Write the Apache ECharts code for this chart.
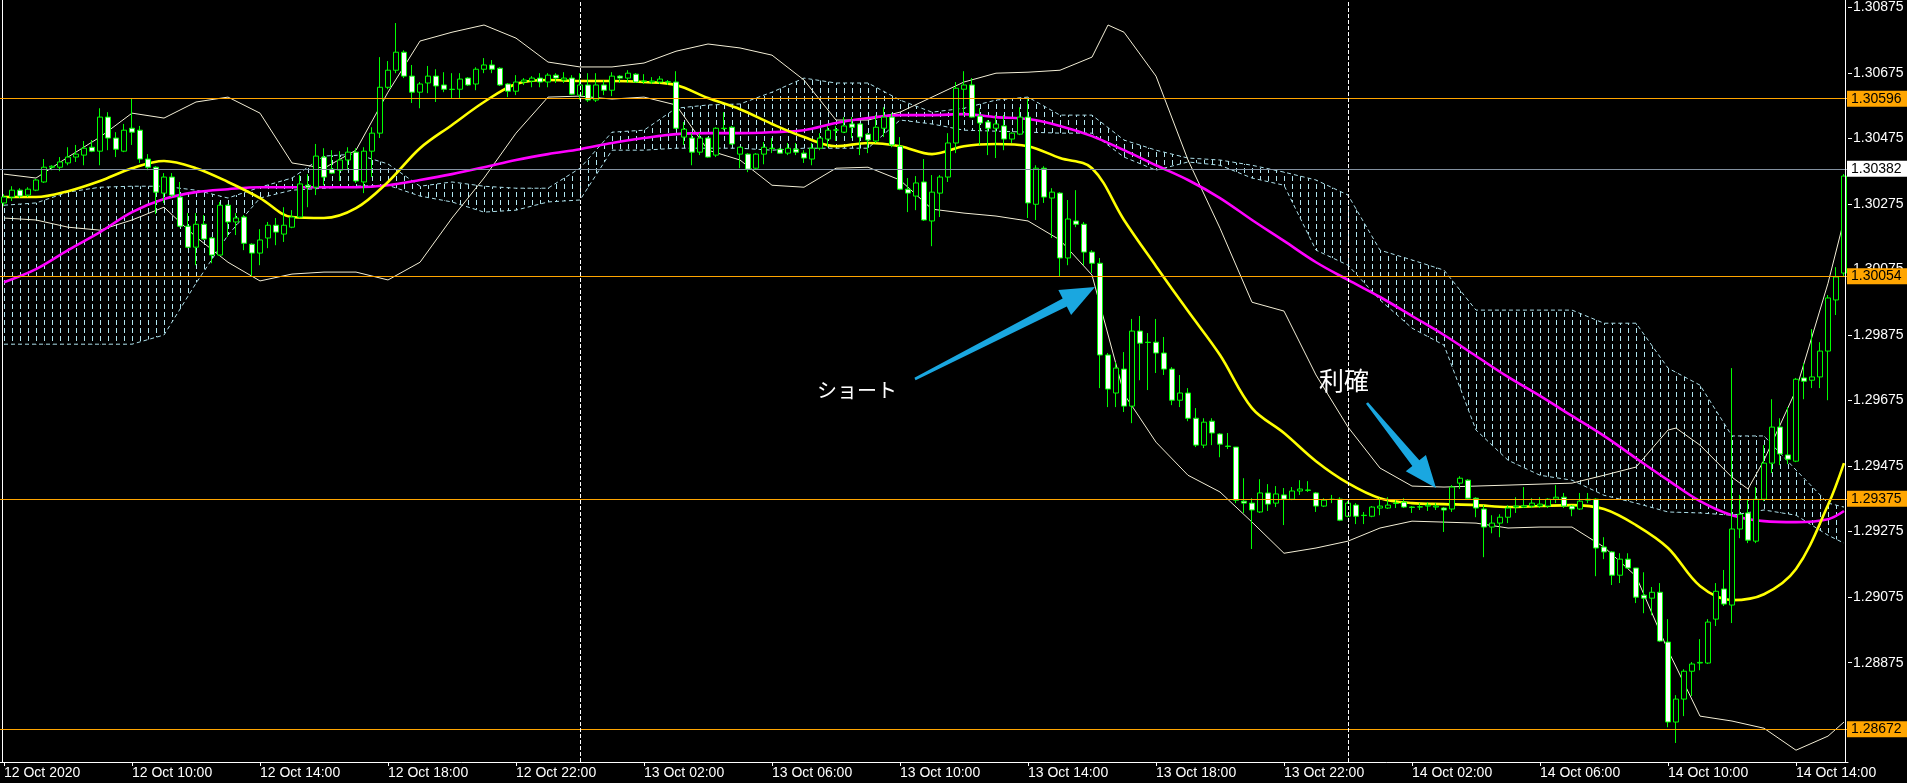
<!DOCTYPE html>
<html><head><meta charset="utf-8">
<script src="https://cdn.jsdelivr.net/npm/echarts@6/dist/echarts.min.js"></script>
<style>html,body{margin:0;padding:0;background:#000;overflow:hidden}#c{width:1907px;height:783px}</style>
</head><body><div id="c"></div>
<script>
// ---------- DATA (GBPUSD M15) ----------
const startLabel = '12 Oct 2020';
const opens = [1.30278,1.30296,1.30317,1.30302,1.30317,1.30342,1.30387,1.30387,1.30400,1.30418,
1.30424,1.30448,1.30436,1.30540,1.30476,1.30436,1.30506,1.30500,1.30412,1.30387,
1.30308,1.30357,1.30296,1.30207,1.30143,1.30213,1.30171,1.30119,1.30271,1.30220,
1.30235,1.30152,1.30125,1.30171,1.30210,1.30183,1.30204,1.30235,1.30332,1.30326,
1.30418,1.30381,1.30378,1.30409,1.30433,1.30342,1.30436,1.30491,1.30631,1.30683,
1.30738,1.30665,1.30616,1.30644,1.30665,1.30638,1.30625,1.30625,1.30659,1.30641,
1.30686,1.30699,1.30689,1.30641,1.30619,1.30647,1.30650,1.30659,1.30647,1.30668,
1.30653,1.30659,1.30607,1.30638,1.30592,1.30638,1.30622,1.30665,1.30659,1.30671,
1.30650,1.30647,1.30647,1.30647,1.30647,1.30479,1.30476,1.30433,1.30476,1.30424,
1.30506,1.30509,1.30427,1.30427,1.30384,1.30427,1.30445,1.30442,1.30430,1.30442,
1.30430,1.30412,1.30445,1.30473,1.30500,1.30494,1.30519,1.30519,1.30488,1.30467,
1.30506,1.30540,1.30451,1.30320,1.30299,1.30342,1.30223,1.30308,1.30357,1.30461,
1.30625,1.30638,1.30543,1.30525,1.30506,1.30513,1.30473,1.30488,1.30540,1.30274,
1.30384,1.30293,1.30308,1.30110,1.30223,1.30213,1.30128,1.30094,1.29814,1.29698,
1.29771,1.29658,1.29887,1.29853,1.29853,1.29820,1.29771,1.29676,1.29698,1.29621,
1.29539,1.29612,1.29573,1.29536,1.29533,1.29368,1.29362,1.29335,1.29393,1.29362,
1.29387,1.29374,1.29399,1.29402,1.29393,1.29353,1.29374,1.29374,1.29322,1.29356,
1.29325,1.29322,1.29347,1.29347,1.29362,1.29365,1.29350,1.29350,1.29353,1.29350,
1.29347,1.29344,1.29423,1.29432,1.29377,1.29344,1.29289,1.29301,1.29319,1.29350,
1.29350,1.29353,1.29353,1.29353,1.29374,1.29380,1.29353,1.29344,1.29371,1.29374,
1.29228,1.29213,1.29142,1.29191,1.29164,1.29081,1.29072,1.29090,1.28938,1.28694,
1.28764,1.28849,1.28874,1.28874,1.29008,1.29100,1.29051,1.29283,1.29332,1.29246,
1.29374,1.29484,1.29594,1.29509,1.29490,1.29744,1.29737,1.29747,1.29826,1.29982,
1.30064];
const closes = [1.30296,1.30317,1.30299,1.30320,1.30348,1.30387,1.30390,1.30403,1.30418,1.30427,
1.30445,1.30436,1.30540,1.30476,1.30442,1.30500,1.30494,1.30412,1.30387,1.30311,
1.30357,1.30302,1.30207,1.30143,1.30213,1.30168,1.30119,1.30271,1.30220,1.30232,
1.30155,1.30125,1.30165,1.30210,1.30189,1.30210,1.30235,1.30336,1.30326,1.30421,
1.30357,1.30369,1.30409,1.30433,1.30345,1.30436,1.30491,1.30631,1.30683,1.30738,
1.30665,1.30616,1.30641,1.30665,1.30635,1.30625,1.30624,1.30656,1.30638,1.30686,
1.30699,1.30686,1.30638,1.30619,1.30647,1.30653,1.30659,1.30647,1.30668,1.30659,
1.30659,1.30610,1.30638,1.30592,1.30638,1.30622,1.30665,1.30659,1.30674,1.30647,
1.30649,1.30650,1.30656,1.30648,1.30506,1.30503,1.30433,1.30476,1.30418,1.30506,
1.30505,1.30458,1.30448,1.30381,1.30427,1.30448,1.30444,1.30430,1.30445,1.30433,
1.30415,1.30445,1.30476,1.30500,1.30501,1.30513,1.30509,1.30479,1.30470,1.30509,
1.30540,1.30455,1.30320,1.30308,1.30339,1.30226,1.30311,1.30357,1.30461,1.30628,
1.30638,1.30540,1.30522,1.30506,1.30519,1.30473,1.30491,1.30540,1.30278,1.30384,
1.30296,1.30311,1.30110,1.30229,1.30213,1.30128,1.30094,1.29814,1.29710,1.29774,
1.29658,1.29887,1.29850,1.29852,1.29820,1.29771,1.29676,1.29698,1.29621,1.29539,
1.29609,1.29576,1.29542,1.29535,1.29371,1.29362,1.29341,1.29393,1.29359,1.29390,
1.29374,1.29399,1.29405,1.29401,1.29353,1.29371,1.29373,1.29310,1.29362,1.29322,
1.29324,1.29350,1.29353,1.29356,1.29361,1.29350,1.29349,1.29351,1.29356,1.29353,
1.29341,1.29411,1.29438,1.29377,1.29347,1.29289,1.29301,1.29319,1.29347,1.29353,
1.29354,1.29362,1.29359,1.29374,1.29380,1.29353,1.29344,1.29368,1.29374,1.29225,
1.29213,1.29142,1.29191,1.29164,1.29075,1.29072,1.29090,1.28941,1.28694,1.28764,
1.28849,1.28871,1.28876,1.28999,1.29093,1.29054,1.29283,1.29328,1.29249,1.29374,
1.29484,1.29594,1.29512,1.29496,1.29740,1.29734,1.29747,1.29826,1.29988,1.30052,
1.30360];
const lows = [1.30268,1.30284,1.30293,1.30296,1.30314,1.30339,1.30378,1.30375,1.30393,1.30403,
1.30393,1.30433,1.30393,1.30439,1.30418,1.30433,1.30455,1.30400,1.30378,1.30244,
1.30278,1.30296,1.30204,1.30140,1.30088,1.30165,1.30094,1.30116,1.30174,1.30180,
1.30134,1.30055,1.30088,1.30140,1.30149,1.30159,1.30201,1.30232,1.30265,1.30302,
1.30332,1.30366,1.30345,1.30378,1.30339,1.30308,1.30357,1.30476,1.30625,1.30674,
1.30659,1.30583,1.30567,1.30613,1.30586,1.30616,1.30598,1.30598,1.30635,1.30622,
1.30674,1.30674,1.30635,1.30601,1.30607,1.30638,1.30631,1.30631,1.30631,1.30644,
1.30644,1.30607,1.30592,1.30586,1.30586,1.30607,1.30604,1.30644,1.30644,1.30644,
1.30641,1.30641,1.30641,1.30638,1.30503,1.30455,1.30393,1.30424,1.30416,1.30418,
1.30500,1.30455,1.30384,1.30372,1.30381,1.30396,1.30430,1.30428,1.30424,1.30424,
1.30400,1.30393,1.30439,1.30448,1.30467,1.30491,1.30476,1.30424,1.30430,1.30461,
1.30479,1.30448,1.30317,1.30250,1.30256,1.30223,1.30146,1.30235,1.30342,1.30430,
1.30546,1.30538,1.30455,1.30424,1.30415,1.30439,1.30461,1.30485,1.30232,1.30226,
1.30278,1.30171,1.30052,1.30088,1.30204,1.30088,1.30064,1.29713,1.29655,1.29655,
1.29640,1.29606,1.29737,1.29707,1.29759,1.29753,1.29661,1.29655,1.29612,1.29533,
1.29530,1.29539,1.29502,1.29527,1.29362,1.29332,1.29222,1.29332,1.29338,1.29350,
1.29295,1.29371,1.29387,1.29396,1.29335,1.29350,1.29362,1.29307,1.29319,1.29298,
1.29298,1.29319,1.29325,1.29344,1.29347,1.29347,1.29332,1.29341,1.29338,1.29341,
1.29274,1.29335,1.29405,1.29374,1.29319,1.29197,1.29270,1.29258,1.29301,1.29332,
1.29347,1.29347,1.29347,1.29347,1.29362,1.29347,1.29322,1.29341,1.29362,1.29139,
1.29191,1.29112,1.29118,1.29161,1.29057,1.29026,1.29020,1.28938,1.28678,1.28630,
1.28712,1.28773,1.28852,1.28871,1.28987,1.29048,1.28996,1.29255,1.29240,1.29240,
1.29368,1.29454,1.29478,1.29481,1.29487,1.29679,1.29713,1.29713,1.29676,1.29936,
1.30052];
const highs = [1.30305,1.30329,1.30323,1.30326,1.30351,1.30412,1.30393,1.30418,1.30448,1.30455,
1.30467,1.30470,1.30567,1.30555,1.30494,1.30519,1.30598,1.30513,1.30427,1.30390,
1.30369,1.30369,1.30342,1.30247,1.30247,1.30241,1.30174,1.30281,1.30274,1.30247,
1.30241,1.30155,1.30198,1.30220,1.30232,1.30265,1.30256,1.30363,1.30366,1.30458,
1.30445,1.30439,1.30436,1.30448,1.30445,1.30448,1.30509,1.30723,1.30711,1.30827,
1.30744,1.30699,1.30647,1.30696,1.30686,1.30677,1.30674,1.30674,1.30662,1.30692,
1.30720,1.30714,1.30692,1.30644,1.30668,1.30659,1.30665,1.30674,1.30674,1.30674,
1.30677,1.30668,1.30674,1.30674,1.30674,1.30653,1.30677,1.30668,1.30683,1.30674,
1.30671,1.30662,1.30665,1.30653,1.30680,1.30525,1.30491,1.30491,1.30479,1.30509,
1.30555,1.30513,1.30450,1.30430,1.30430,1.30464,1.30476,1.30446,1.30461,1.30461,
1.30439,1.30461,1.30491,1.30513,1.30513,1.30540,1.30540,1.30522,1.30491,1.30546,
1.30570,1.30552,1.30479,1.30354,1.30360,1.30412,1.30363,1.30363,1.30491,1.30647,
1.30680,1.30659,1.30567,1.30531,1.30546,1.30546,1.30494,1.30570,1.30598,1.30393,
1.30390,1.30323,1.30311,1.30287,1.30317,1.30220,1.30134,1.30110,1.29820,1.29792,
1.29823,1.29924,1.29933,1.29881,1.29924,1.29869,1.29777,1.29753,1.29713,1.29652,
1.29621,1.29621,1.29576,1.29576,1.29533,1.29438,1.29377,1.29435,1.29420,1.29414,
1.29408,1.29411,1.29432,1.29429,1.29396,1.29377,1.29387,1.29380,1.29368,1.29362,
1.29335,1.29353,1.29377,1.29380,1.29374,1.29377,1.29353,1.29362,1.29365,1.29362,
1.29350,1.29417,1.29444,1.29435,1.29380,1.29356,1.29325,1.29328,1.29356,1.29380,
1.29411,1.29377,1.29380,1.29377,1.29417,1.29393,1.29356,1.29393,1.29393,1.29377,
1.29258,1.29216,1.29209,1.29209,1.29164,1.29151,1.29106,1.29118,1.29008,1.28776,
1.28855,1.28877,1.28947,1.29008,1.29118,1.29158,1.29774,1.29387,1.29374,1.29411,
1.29539,1.29679,1.29621,1.29655,1.29744,1.29789,1.29893,1.29853,1.29997,1.30082,
1.30366];

// indicator readings (bar index -> price)
const sampleIdx = [0,4,8,12,16,20,24,28,32,36,40,44,48,52,56,60,64,68,72,76,80,84,88,92,96,100,104,108,112,116,120,124,128,132,136,140,144,148,152,156,160,164,168,172,176,180,184,188,192,196,200,204,208,212,216,220,224,228,230];
const bandUpperIdx = [0,4,8,12,16,20,24,28,32,36,40,44,48,52,56,60,64,68,72,76,80,84,88,92,96,100,104,108,112,116,120,124,128,132,136,138,140,144,148,152,156,160,164,168,172,176,180,184,188,192,196,200,204,208,209,212,216,218,220,224,228,230];
const bandUpper = [1.30366,1.30354,1.30418,1.30479,1.30552,1.30537,1.30586,1.30601,1.30552,1.30400,1.30384,1.30439,1.30616,1.30772,1.30799,1.30821,1.30781,1.30708,1.30693,1.30693,1.30705,1.30741,1.30763,1.30751,1.30729,1.30653,1.30531,1.30531,1.30555,1.30601,1.30647,1.30674,1.30677,1.30683,1.30723,
1.30821,
1.30799,1.30665,1.30409,1.30201,1.29975,1.29948,1.29753,1.29594,1.29469,1.29414,1.29411,1.29414,1.29417,1.29420,1.29423,1.29447,1.29472,1.29585,
1.29591,
1.29539,1.29441,1.29405,1.29493,1.29707,1.30033,1.30226];
const bandLower = [1.30232,1.30226,1.30204,1.30195,1.30226,1.30265,1.30174,1.30097,1.30040,1.30061,
1.30067,1.30067,1.30043,1.30097,1.30232,1.30354,1.30491,1.30601,1.30604,1.30595,
1.30601,1.30577,1.30439,1.30409,1.30332,1.30326,1.30384,1.30387,1.30348,1.30259,
1.30247,1.30238,1.30223,1.30165,1.30058,1.29695,1.29548,1.29447,1.29396,1.29304,
1.29209,1.29225,1.29246,1.29286,1.29307,1.29304,1.29301,1.29286,1.29289,1.29289,
1.29228,1.29139,1.28913,1.28712,1.28697,1.28675,1.28608,1.28651,1.28694];
const maYellow = [1.30296,1.30296,1.30314,1.30345,1.30384,1.30406,1.30384,1.30342,1.30293,1.30235,
1.30232,1.30262,1.30342,1.30445,1.30516,1.30586,1.30641,1.30653,1.30650,1.30650,
1.30647,1.30638,1.30598,1.30564,1.30519,1.30479,1.30451,1.30461,1.30451,1.30427,
1.30451,1.30458,1.30451,1.30415,1.30384,1.30226,1.30085,1.29948,1.29814,1.29652,
1.29576,1.29490,1.29423,1.29377,1.29362,1.29359,1.29356,1.29350,1.29353,1.29356,
1.29344,1.29295,1.29225,1.29109,1.29066,1.29084,1.29161,1.29356,1.29484];
const maMagenta = [1.30036,1.30076,1.30134,1.30189,1.30250,1.30290,1.30311,1.30320,1.30326,1.30326,
1.30326,1.30326,1.30332,1.30348,1.30366,1.30387,1.30409,1.30427,1.30442,1.30461,
1.30476,1.30488,1.30491,1.30491,1.30494,1.30500,1.30522,1.30537,1.30546,1.30546,
1.30549,1.30540,1.30534,1.30513,1.30482,1.30439,1.30393,1.30348,1.30293,1.30226,
1.30162,1.30097,1.30043,1.29991,1.29933,1.29875,1.29811,1.29747,1.29689,1.29628,
1.29567,1.29499,1.29432,1.29368,1.29325,1.29307,1.29304,1.29313,1.29338];
const cloudTop = [1.30271,1.30278,1.30311,1.30326,1.30329,1.30329,1.30317,1.30293,1.30326,1.30354,
1.30421,1.30427,1.30397,1.30329,1.30342,1.30329,1.30323,1.30323,1.30384,1.30494,
1.30500,1.30567,1.30577,1.30580,1.30616,1.30659,1.30644,1.30644,1.30592,1.30555,
1.30567,1.30592,1.30601,1.30546,1.30546,1.30470,1.30439,1.30415,1.30409,1.30393,
1.30372,1.30348,1.30302,1.30134,1.30104,1.30073,1.29951,1.29951,1.29951,1.29951,
1.29911,1.29911,1.29774,1.29722,1.29567,1.29567,1.29463,1.29362,1.29350];
const cloudBottom = [1.29847,1.29847,1.29847,1.29847,1.29847,1.29875,1.30033,1.30180,1.30293,1.30317,
1.30323,1.30329,1.30332,1.30299,1.30281,1.30250,1.30256,1.30281,1.30287,1.30439,
1.30439,1.30445,1.30445,1.30445,1.30439,1.30445,1.30445,1.30445,1.30531,1.30519,
1.30500,1.30497,1.30494,1.30491,1.30491,1.30418,1.30378,1.30403,1.30393,1.30354,
1.30332,1.30134,1.30088,1.29982,1.29896,1.29844,1.29585,1.29493,1.29447,1.29432,
1.29386,1.29362,1.29335,1.29332,1.29325,1.29341,1.29325,1.29264,1.29240];

const priceLevels = [1.30596, 1.30054, 1.29375, 1.28672];
const bidPrice = 1.30382;
const yTickValues = [1.28875,1.29075,1.29275,1.29475,1.29675,1.29875,1.30075,1.30275,1.30475,1.30675,1.30875];
const yMin = 1.28572, yMax = 1.308973;
const daySeparators = ['13 Oct 00:00', '14 Oct 00:00'];

// ---------- BUILD ----------
const pad = n => (n < 10 ? '0' : '') + n;
const t0 = Date.UTC(2020, 9, 12, 6, 0);
const categories = opens.map((_, i) => {
  const d = new Date(t0 + i * 15 * 60000);
  return d.getUTCDate() + ' Oct ' + pad(d.getUTCHours()) + ':' + pad(d.getUTCMinutes());
});
const ohlc = opens.map((o, i) => [o, closes[i], lows[i], highs[i]]);
const pairs = (idx, vals) => idx.map((x, i) => [x, vals[i]]);

const cloudColor = '#acdfea';
const hatch = document.createElement('canvas');
hatch.width = 8; hatch.height = 8;
const hc = hatch.getContext('2d');
hc.fillStyle = '#b2e6f0';
hc.fillRect(4, 0, 1, 5);

const lineSeries = (name, idx, vals, color, width, extra) => Object.assign({
  name, type: 'line', data: pairs(idx, vals), symbol: 'none', silent: true, z: 2,
  lineStyle: { color, width }, animation: false
}, extra || {});

const chart = echarts.init(document.getElementById('c'), null, { renderer: 'canvas' });
const labelInterval = (i) => i % 16 === 0;
const axisFont = 'Liberation Sans, Arial, sans-serif';

const levelLine = (v, color, bg) => ({
  yAxis: v, lineStyle: { color, width: 1, type: 'solid' },
  label: { show: true, position: 'end', distance: -1, formatter: () => v.toFixed(5),
    color: '#000', backgroundColor: bg, fontSize: 14, fontFamily: axisFont,
    lineHeight: 16, padding: [0, 6, 0, 4] }
});

chart.setOption({
  backgroundColor: '#000000',
  animation: false,
  grid: { left: 0, right: 59, top: 0, bottom: 21, containLabel: false },
  xAxis: {
    type: 'category', data: categories, boundaryGap: true,
    axisLine: { show: true, lineStyle: { color: '#ffffff', width: 1 } },
    axisTick: { show: true, interval: labelInterval, alignWithLabel: true, length: 4, lineStyle: { color: '#ffffff' } },
    axisLabel: { interval: labelInterval, color: '#ffffff', fontSize: 14, fontFamily: axisFont,
      align: 'left', margin: 4, formatter: (v, i) => i === 0 ? startLabel : v },
    splitLine: { show: false }
  },
  yAxis: {
    type: 'value', position: 'right', min: yMin, max: yMax,
    axisLine: { show: false },
    splitLine: { show: false },
    axisTick: { show: true, customValues: yTickValues, length: 4, lineStyle: { color: '#ffffff' } },
    axisLabel: { customValues: yTickValues, color: '#ffffff', fontSize: 14, fontFamily: axisFont,
      margin: 5, formatter: v => v.toFixed(5) }
  },
  series: [
    {
      name: 'cloud', type: 'custom', z: 1, silent: true, animation: false,
      data: sampleIdx.map((x, i) => [x, cloudTop[i], cloudBottom[i]]),
      encode: { x: 0, y: [1, 2] },
      renderItem: (params, api) => {
        const i = params.dataIndex;
        if (i >= sampleIdx.length - 1) return null;
        const a = api.coord([sampleIdx[i], cloudTop[i]]);
        const b = api.coord([sampleIdx[i + 1], cloudTop[i + 1]]);
        const c = api.coord([sampleIdx[i + 1], cloudBottom[i + 1]]);
        const d = api.coord([sampleIdx[i], cloudBottom[i]]);
        return { type: 'polygon', silent: true, shape: { points: [a, b, c, d] },
          style: { fill: { image: hatch, repeat: 'repeat' }, stroke: null } };
      }
    },
    lineSeries('spanA', sampleIdx, cloudTop, cloudColor, 1, { z: 1, lineStyle: { color: cloudColor, width: 1, type: [4, 3] } }),
    lineSeries('spanB', sampleIdx, cloudBottom, cloudColor, 1, { z: 1, lineStyle: { color: cloudColor, width: 1, type: [4, 3] } }),
    lineSeries('bandUpper', bandUpperIdx, bandUpper, '#f3eed6', 1),
    lineSeries('bandLower', sampleIdx, bandLower, '#f3eed6', 1),
    lineSeries('maMagenta', sampleIdx, maMagenta, '#ff00ff', 2.6, { smooth: 0.35 }),
    lineSeries('maYellow', sampleIdx, maYellow, '#ffff00', 2.6, { smooth: 0.35 }),
    {
      name: 'GBPUSD', type: 'candlestick', data: ohlc, barWidth: 5, z: 3, silent: true, animation: false,
      itemStyle: { color: '#000000', color0: '#ffffff', borderColor: '#00ff00', borderColor0: '#00ff00', borderColorDoji: '#00ff00', borderWidth: 1 },
      markLine: {
        silent: true, animation: false, symbol: ['none', 'none'], precision: 5,
        data: [
          ...priceLevels.map(v => levelLine(v, '#ffa500', '#ffa500')),
          levelLine(bidPrice, '#8391a0', '#ffffff'),
          ...daySeparators.map(s => ({ xAxis: s, lineStyle: { color: '#ffffff', width: 1, type: [4, 2] }, label: { show: false } }))
        ]
      }
    }
  ]
});

// ---------- decorations / annotations ----------
function arrowPoints(tail, tip, headLen, headHalf, tailHalf, neckHalf) {
  const dx = tip[0] - tail[0], dy = tip[1] - tail[1];
  const L = Math.hypot(dx, dy), ux = dx / L, uy = dy / L, nx = -uy, ny = ux;
  const bx = tip[0] - ux * headLen, by = tip[1] - uy * headLen;
  return [
    [tail[0] + nx * tailHalf, tail[1] + ny * tailHalf],
    [bx + nx * neckHalf, by + ny * neckHalf],
    [bx + nx * headHalf, by + ny * headHalf],
    tip,
    [bx - nx * headHalf, by - ny * headHalf],
    [bx - nx * neckHalf, by - ny * neckHalf],
    [tail[0] - nx * tailHalf, tail[1] - ny * tailHalf]
  ];
}
const arrowColor = '#1aa7e0';
chart.setOption({
  graphic: [
    { type: 'line', silent: true, shape: { x1: 2.5, y1: 0, x2: 2.5, y2: 762 }, style: { stroke: '#ffffff', lineWidth: 1 } },
    { type: 'line', silent: true, shape: { x1: 1845.5, y1: 0, x2: 1845.5, y2: 762 }, style: { stroke: '#ffffff', lineWidth: 1 }, z: 10 },
    { type: 'polygon', silent: true, shape: { points: arrowPoints([915, 379], [1095, 287], 34, 14, 1.3, 4.5) }, style: { fill: arrowColor }, z: 20 },
    { type: 'polygon', silent: true, shape: { points: arrowPoints([1367, 403], [1436, 488], 32, 13, 1.3, 4.5) }, style: { fill: arrowColor }, z: 20 },
    { type: 'text', silent: true, left: 817, top: 380, z: 20,
      style: { text: 'ショート', fill: '#ffffff', font: '20px "Noto Sans CJK JP", sans-serif' } },
    { type: 'text', silent: true, left: 1319, top: 368, z: 20,
      style: { text: '利確', fill: '#ffffff', font: '25px "Noto Sans CJK JP", sans-serif' } }
  ]
});
</script></body></html>
